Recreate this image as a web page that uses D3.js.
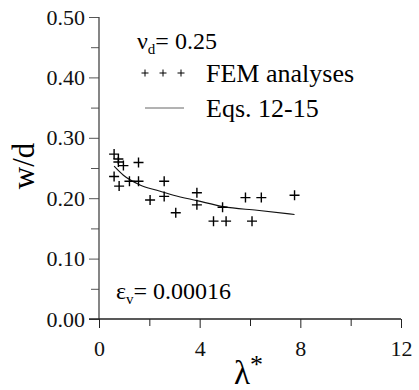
<!DOCTYPE html>
<html><head><meta charset="utf-8">
<script src="https://cdn.jsdelivr.net/npm/d3@7"></script>
<style>html,body{margin:0;padding:0;background:#fff;}svg{display:block;}</style>
</head><body><div id="chart"></div>
<script>
const femLambda = [0.60,0.77,0.77,0.97,1.57,0.60,0.80,1.21,1.57,2.03,2.59,2.59,3.05,3.89,3.89,4.55,4.91,5.05,5.82,6.08,6.45,7.77];
const femW      = [0.273,0.265,0.260,0.254,0.259,0.236,0.220,0.228,0.228,0.197,0.228,0.203,0.176,0.209,0.189,0.162,0.185,0.162,0.201,0.162,0.201,0.205];
const eqLambda = [0.60,0.97,1.63,2.30,2.96,3.89,4.95,6.28,7.77];
const eqW      = [0.253,0.238,0.222,0.213,0.205,0.196,0.186,0.180,0.173];
const xTicks = [0,4,8,12];
const xMinor = [2,6,10];
const yTicks = [0,0.1,0.2,0.3,0.4,0.5];
const yMinor = [0.05,0.15,0.25,0.35,0.45];

const FONT="Liberation Serif";
const W=419,H=390;
const svg=d3.select("#chart").append("svg").attr("width",W).attr("height",H).attr("font-family",FONT);
const x=d3.scaleLinear().domain([0,12]).range([99,401]);
const y=d3.scaleLinear().domain([0,0.5]).range([319,17]);

// y axis
const gy=svg.append("g").attr("transform","translate(99,0)");
gy.call(d3.axisLeft(y).tickValues(yTicks).tickFormat(d3.format(".2f")).tickSize(10).tickPadding(4));
gy.append("g").call(d3.axisLeft(y).tickValues(yMinor).tickFormat("").tickSize(8));
gy.selectAll("path.domain").remove();
gy.selectAll("line").attr("stroke","#555");
gy.append("line").attr("x1",0).attr("x2",0).attr("y1",y(0)).attr("y2",y(0.5)).attr("stroke","#444").attr("stroke-width",1.3);
gy.attr("font-family",FONT);
gy.selectAll("text").attr("font-size",22).attr("fill","#111").attr("font-family",FONT);

// x axis
const gx=svg.append("g").attr("transform","translate(0,319)");
gx.call(d3.axisBottom(x).tickValues(xTicks).tickSize(9).tickPadding(12));
gx.append("g").call(d3.axisBottom(x).tickValues(xMinor).tickFormat("").tickSize(7));
gx.selectAll("path.domain").remove();
gx.append("line").attr("x1",x(0)-10).attr("x2",x(12)).attr("stroke","#000").attr("stroke-width",1.3);
gx.selectAll("line").attr("stroke","#222");
gx.attr("font-family",FONT);
gx.selectAll("text").attr("font-size",22).attr("fill","#111").attr("font-family",FONT);

// curve
const line=d3.line().x((d,i)=>x(eqLambda[i])).y((d,i)=>y(eqW[i])).curve(d3.curveMonotoneX);
svg.append("path").datum(eqW).attr("d",line).attr("fill","none").attr("stroke","#111").attr("stroke-width",1.1);

// plus markers
const plus=(g,cx,cy,r,sw)=>{g.append("path").attr("d",`M${cx-r},${cy}H${cx+r}M${cx},${cy-r}V${cy+r}`).attr("stroke","#000").attr("stroke-width",sw).attr("fill","none");};
const gp=svg.append("g");
femW.forEach((w,i)=>plus(gp,x(femLambda[i]),y(w),5,1.4));

// legend
const gl=svg.append("g");
[145,163,181].forEach(cx=>plus(gl,cx,73,3.5,1));
gl.append("line").attr("x1",145).attr("x2",184).attr("y1",108).attr("y2",108).attr("stroke","#666").attr("stroke-width",1);
gl.append("text").attr("x",206).attr("y",82).attr("font-size",26).text("FEM analyses");
gl.append("text").attr("x",206).attr("y",117).attr("font-size",26).text("Eqs. 12-15");

const t1=svg.append("text").attr("x",137).attr("y",49).attr("font-size",24);
t1.append("tspan").text("ν");
t1.append("tspan").attr("font-size",15).attr("dy",5).text("d");
t1.append("tspan").attr("dy",-5).text("= 0.25");

const t2=svg.append("text").attr("x",116).attr("y",299).attr("font-size",24);
t2.append("tspan").text("ε");
t2.append("tspan").attr("font-size",15).attr("dy",5).text("v");
t2.append("tspan").attr("dy",-5).text("= 0.00016");

svg.append("text").attr("transform","translate(34,166) rotate(-90)").attr("text-anchor","middle").attr("font-size",31).text("w/d");
const lx=svg.append("text").attr("x",234).attr("y",384).attr("font-size",33);
lx.append("tspan").text("λ");
lx.append("tspan").attr("font-size",26).attr("dy",-11).text("*");
</script></body></html>
